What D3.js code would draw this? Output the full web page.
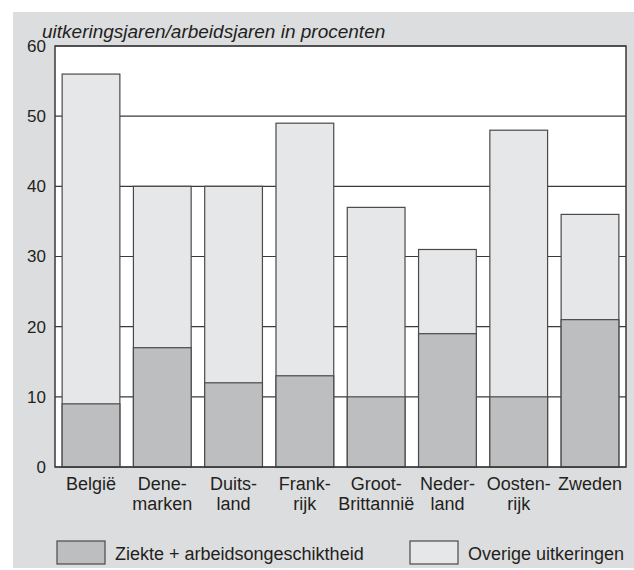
<!DOCTYPE html>
<html>
<head>
<meta charset="utf-8">
<script src="https://cdn.jsdelivr.net/npm/d3@7"></script>
<style>
  body { margin: 0; background: #fff; }
  text { font-family: "Liberation Sans", Arial, sans-serif; fill: #231f20; }
</style>
</head>
<body>
<svg id="chart" width="634" height="570"></svg>
<script>
// data
var landen = ["België", "Dene-\nmarken", "Duits-\nland", "Frank-\nrijk", "Groot-\nBrittannië", "Neder-\nland", "Oosten-\nrijk", "Zweden"];
var ziekte = [9, 17, 12, 13, 10, 19, 10, 21];
var totaal = [56, 40, 40, 49, 37, 31, 48, 36];
var yTicks = [0, 10, 20, 30, 40, 50, 60];
var legendLabels = ["Ziekte + arbeidsongeschiktheid", "Overige uitkeringen"];

var colLow = "#bdbec0", colHigh = "#e6e7e8", colBg = "#dcdddf", colLine = "#3a3a3a";

var svg = d3.select("#chart");

// grey panel
svg.append("rect")
	.attr("x", 13).attr("y", 12)
	.attr("width", 621).attr("height", 556)
	.attr("fill", colBg);

var plotLeft = 55, plotRight = 626, plotTop = 46, plotBottom = 467;

var x = d3.scaleBand()
	.domain(d3.range(landen.length))
	.range([plotLeft, plotRight])
	.paddingInner(0.19)
	.paddingOuter(0.1);

var y = d3.scaleLinear()
	.domain([0, 60])
	.range([plotBottom, plotTop]);

// plot area
svg.append("rect")
	.attr("x", plotLeft).attr("y", plotTop)
	.attr("width", plotRight - plotLeft).attr("height", plotBottom - plotTop)
	.attr("fill", "#fff");

// gridlines
svg.append("g")
	.selectAll("line")
	.data(yTicks)
	.join("line")
	.attr("x1", plotLeft).attr("x2", plotRight)
	.attr("y1", function (d) { return y(d); })
	.attr("y2", function (d) { return y(d); })
	.attr("stroke", colLine)
	.attr("stroke-width", 1.2);

// bars
var bars = svg.append("g");
bars.selectAll("rect.high")
	.data(totaal)
	.join("rect")
	.attr("class", "high")
	.attr("x", function (d, i) { return x(i); })
	.attr("y", function (d) { return y(d); })
	.attr("width", x.bandwidth())
	.attr("height", function (d) { return y(0) - y(d); })
	.attr("fill", colHigh)
	.attr("stroke", "#4a4a4a")
	.attr("stroke-width", 1.2);

bars.selectAll("rect.low")
	.data(ziekte)
	.join("rect")
	.attr("class", "low")
	.attr("x", function (d, i) { return x(i); })
	.attr("y", function (d) { return y(d); })
	.attr("width", x.bandwidth())
	.attr("height", function (d) { return y(0) - y(d); })
	.attr("fill", colLow)
	.attr("stroke", "#4a4a4a")
	.attr("stroke-width", 1.2);

// frame
svg.append("rect")
	.attr("x", plotLeft).attr("y", plotTop)
	.attr("width", plotRight - plotLeft).attr("height", plotBottom - plotTop)
	.attr("fill", "none")
	.attr("stroke", colLine)
	.attr("stroke-width", 1.5);

// y axis labels
var yAxis = d3.axisLeft(y).tickValues(yTicks).tickSize(0).tickPadding(9);
var gy = svg.append("g")
	.attr("transform", "translate(" + plotLeft + ",0)")
	.call(yAxis);
gy.select(".domain").remove();
gy.selectAll("text")
	.attr("font-size", 17)
	.attr("font-family", "Liberation Sans, Arial, sans-serif")
	.attr("fill", "#231f20");

// y title
svg.append("text")
	.attr("x", 42).attr("y", 38)
	.attr("font-size", 19)
	.attr("font-style", "italic")
	.text("uitkeringsjaren/arbeidsjaren in procenten");

// category labels
var cat = svg.append("g")
	.selectAll("text")
	.data(landen)
	.join("text")
	.attr("text-anchor", "middle")
	.attr("font-size", 18)
	.attr("transform", function (d, i) { return "translate(" + (x(i) + x.bandwidth() / 2) + ",490)"; });
cat.each(function (d) {
	var t = d3.select(this);
	d.split("\n").forEach(function (line, k) {
		t.append("tspan").attr("x", 0).attr("y", k * 20).text(line);
	});
});

// legend
var legX = [57, 410];
var legCol = [colLow, colHigh];
var leg = svg.append("g")
	.selectAll("g")
	.data(legendLabels)
	.join("g")
	.attr("transform", function (d, i) { return "translate(" + legX[i] + ",541)"; });
leg.append("rect")
	.attr("width", 48).attr("height", 23)
	.attr("fill", function (d, i) { return legCol[i]; })
	.attr("stroke", "#4a4a4a")
	.attr("stroke-width", 1.2);
leg.append("text")
	.attr("x", 58).attr("y", 19)
	.attr("font-size", 18)
	.text(function (d) { return d; });
</script>
</body>
</html>
